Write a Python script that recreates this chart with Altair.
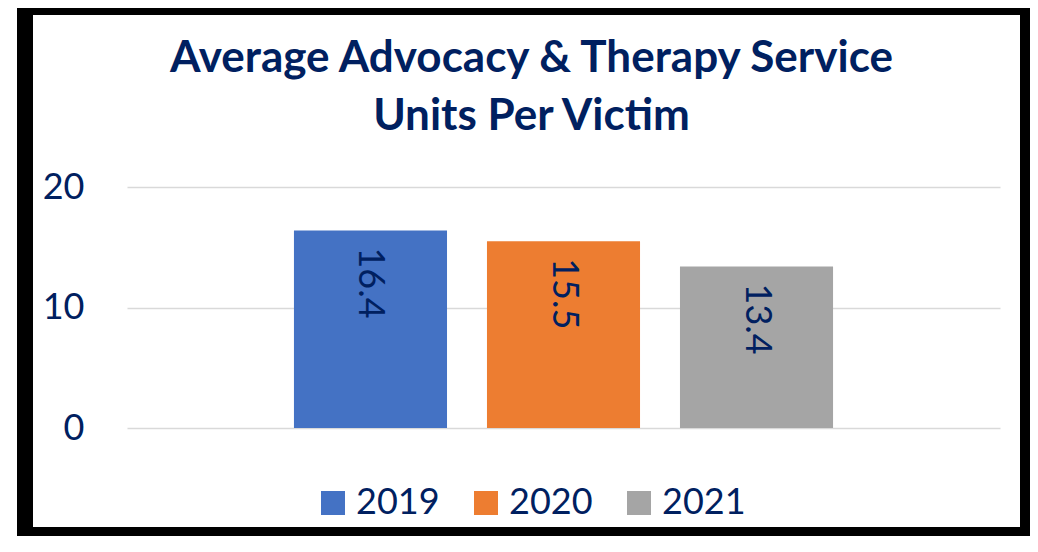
import altair as alt
import pandas as pd

# ---- data ----
years = ["2019", "2020", "2021"]
values = [16.4, 15.5, 13.4]
colors = ["#4472C4", "#ED7D31", "#A5A5A5"]
title_lines = ["Average Advocacy & Therapy Service", "Units Per Victim"]
y_ticks = [0, 10, 20]

NAVY = "#002060"
FONT = "Lato"

df = pd.DataFrame({"year": years, "value": values})

x_enc = alt.X(
    "year:N",
    sort=years,
    scale=alt.Scale(paddingInner=0.207, paddingOuter=0.865),
    axis=None,
)
y_enc = alt.Y(
    "value:Q",
    scale=alt.Scale(domain=[0, 20], nice=False, zero=True),
    axis=alt.Axis(
        values=y_ticks,
        title=None,
        domain=False,
        ticks=False,
        labelPadding=43,
        labelFontSize=36,
        labelFont=FONT,
        labelColor=NAVY,
        grid=True,
        gridColor="#D9D9D9",
        gridWidth=1.5,
    ),
)

frame = (
    alt.Chart(alt.Data(values=[{}]))
    .mark_rect(fillOpacity=0, stroke="black", strokeWidth=16, strokeJoin="round")
    .encode(
        x=alt.value(-102),
        x2=alt.value(901),
        y=alt.value(-180),
        y2=alt.value(348),
    )
)

bars = (
    alt.Chart(df)
    .mark_bar()
    .encode(
        x=x_enc,
        y=y_enc,
        color=alt.Color(
            "year:N",
            scale=alt.Scale(domain=years, range=colors),
            legend=alt.Legend(
                title=None,
                orient="none",
                legendX=188,
                legendY=298,
                direction="horizontal",
                columns=3,
                columnPadding=28,
                symbolType="square",
                symbolSize=576,
                symbolStrokeWidth=0,
                symbolOpacity=1,
                labelFontSize=36,
                labelFont=FONT,
                labelColor=NAVY,
                labelOffset=5,
                labelLimit=300,
                padding=0,
            ),
        ),
    )
)

labels = (
    alt.Chart(df)
    .mark_text(
        angle=90,
        align="left",
        baseline="middle",
        yOffset=17,
        fontSize=36,
        font=FONT,
        color=NAVY,
    )
    .encode(
        x=alt.X("year:N", sort=years, axis=None),
        y=alt.Y("value:Q"),
        text=alt.Text("value:Q", format=".1f"),
    )
)

chart = (
    alt.layer(frame, bars, labels)
    .properties(
        width=873,
        height=241,
        autosize=alt.AutoSizeParams(type="none"),
        padding={"left": 119, "top": 179, "right": 30, "bottom": 108},
        background="white",
        title=alt.TitleParams(
            text=title_lines,
            font=FONT,
            fontSize=44,
            fontWeight="bold",
            color=NAVY,
            anchor="middle",
            dx=-32,
            offset=-140,
            lineHeight=58,
        ),
    )
    .configure_view(strokeWidth=0)
)

chart.save("out.html", embed_options={"renderer": "svg", "actions": False})
